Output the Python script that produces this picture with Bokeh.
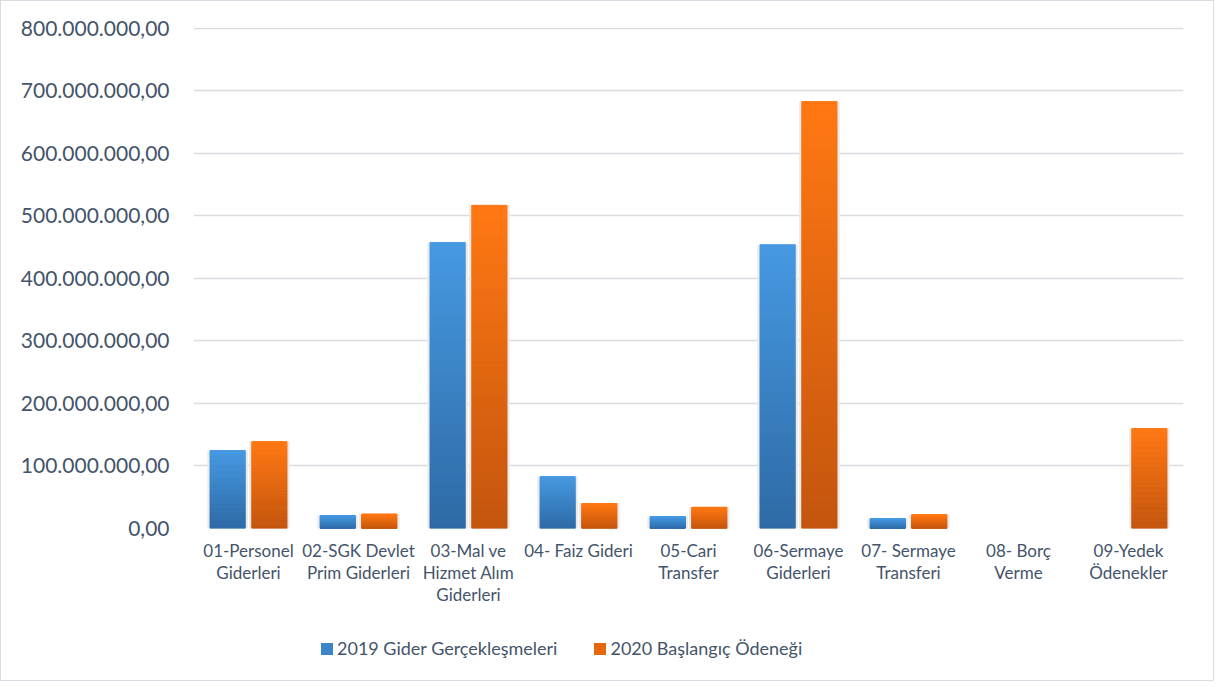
from bokeh.plotting import figure
from bokeh.layouts import column
from bokeh.models import (ColumnDataSource, FactorRange, Range1d, FixedTicker,
                          Legend, LegendItem)
from bokeh.transform import dodge
from bokeh.embed import file_html
from bokeh.resources import INLINE

# ---------------- data ----------------
categories = ["01-Personel\nGiderleri", "02-SGK Devlet\nPrim Giderleri",
              "03-Mal ve\nHizmet Alım\nGiderleri", "04- Faiz Gideri",
              "05-Cari\nTransfer", "06-Sermaye\nGiderleri",
              "07- Sermaye\nTransferi", "08- Borç\nVerme", "09-Yedek\nÖdenekler"]
series_names = ["2019 Gider Gerçekleşmeleri", "2020 Başlangıç Ödeneği"]
values_2019 = [124.8e6, 20.8e6, 457.6e6, 83e6, 19e6, 454e6, 16e6, 0, 0]
values_2020 = [139e6, 23e6, 517e6, 40e6, 34e6, 683e6, 22e6, 0, 160e6]
y_ticks = [0, 100e6, 200e6, 300e6, 400e6, 500e6, 600e6, 700e6, 800e6]

# ---------------- style ----------------
FONT = "Lato"
TXT = "#44546A"
GRID = "#D9DCE1"
blue_top, blue_bot = (0x46, 0x99, 0xE2), (0x2E, 0x6A, 0xA5)
orange_top, orange_bot = (0xFF, 0x78, 0x13), (0xC4, 0x55, 0x0E)
K = 60
BAR_W = 0.32
OFF = 0.19


def mix(a, b, t):
    return "#%02x%02x%02x" % tuple(int(round(a[i] + (b[i] - a[i]) * t)) for i in range(3))


def slices(values, top_c, bot_c):
    xs, bots, tops, cols = [], [], [], []
    for c, v in zip(categories, values):
        if v <= 0:
            continue
        for k in range(K):
            xs.append(c)
            bots.append(v * k / K)
            tops.append(v * (k + 1) / K)
            cols.append(mix(bot_c, top_c, (k + 0.5) / K))
    return ColumnDataSource(dict(x=xs, bottom=bots, top=tops, color=cols))


def fmt(v):
    s = f"{v:,.2f}"
    return s.replace(",", "X").replace(".", ",").replace("X", ".")


p = figure(width=1212, height=620, x_range=FactorRange(*categories, range_padding=0),
           y_range=Range1d(0, 801.5e6), output_backend="svg", toolbar_location=None,
           min_border_left=192, min_border_right=30, min_border_top=26,
           min_border_bottom=93)
p.outline_line_color = None
p.background_fill_color = "white"
p.border_fill_color = "white"

# shadows
shadow_src = ColumnDataSource(dict(x=categories, v19=values_2019, v20=values_2020))
p.vbar(x=dodge("x", -OFF, range=p.x_range), top="v19", bottom=0, width=BAR_W + 0.05,
       source=shadow_src, fill_color="#EBEBEB", line_color=None)
p.vbar(x=dodge("x", OFF, range=p.x_range), top="v20", bottom=0, width=BAR_W + 0.05,
       source=shadow_src, fill_color="#EBEBEB", line_color=None)

src19 = slices(values_2019, blue_top, blue_bot)
src20 = slices(values_2020, orange_top, orange_bot)
p.vbar(x=dodge("x", -OFF, range=p.x_range), top="top", bottom="bottom", width=BAR_W,
       source=src19, fill_color="color", line_color="color", line_width=1)
p.vbar(x=dodge("x", OFF, range=p.x_range), top="top", bottom="bottom", width=BAR_W,
       source=src20, fill_color="color", line_color="color", line_width=1)

# axes
p.yaxis.ticker = FixedTicker(ticks=y_ticks)
p.yaxis.major_label_overrides = {t: fmt(t) for t in y_ticks}
p.yaxis.major_label_text_font = FONT
p.yaxis.major_label_text_font_size = "21px"
p.yaxis.major_label_text_color = TXT
p.yaxis.major_label_standoff = 24
p.yaxis.major_tick_out = 0
p.yaxis.major_tick_in = 0
p.yaxis.axis_line_color = None
p.yaxis.major_tick_line_color = None
p.yaxis.minor_tick_line_color = None

p.xaxis.major_label_text_font = FONT
p.xaxis.major_label_text_font_size = "17px"
p.xaxis.major_label_text_color = TXT
p.xaxis.major_label_text_line_height = 1.05
p.xaxis.major_label_standoff = 11
p.xaxis.major_tick_out = 0
p.xaxis.major_tick_in = 0
p.xaxis.axis_line_color = None
p.xaxis.major_tick_line_color = None
p.xaxis.minor_tick_line_color = None

p.xgrid.grid_line_color = None
p.ygrid.grid_line_color = GRID
p.ygrid.grid_line_width = 1.5

# ---------------- legend strip ----------------
leg = figure(width=1212, height=59, x_range=Range1d(0, 1), y_range=Range1d(0, 1),
             output_backend="svg", toolbar_location=None,
             x_axis_location=None, y_axis_location=None,
             min_border_left=0, min_border_right=0, min_border_top=0, min_border_bottom=0)
leg.outline_line_color = None
leg.xgrid.grid_line_color = None
leg.ygrid.grid_line_color = None
# legend swatches only (renderers hidden, shown in the legend)
l19 = leg.vbar(x=[0.5], top=[1], bottom=[0], width=0.1,
               fill_color=mix(blue_bot, blue_top, 0.55), line_color=None, visible=False)
l20 = leg.vbar(x=[0.5], top=[1], bottom=[0], width=0.1,
               fill_color=mix(orange_bot, orange_top, 0.55), line_color=None, visible=False)
legend = Legend(items=[LegendItem(label=series_names[0], renderers=[l19]),
                       LegendItem(label=series_names[1], renderers=[l20])],
                orientation="horizontal", location=(126, 21),
                glyph_width=15, glyph_height=15, label_height=15, label_standoff=3,
                spacing=35, padding=0, margin=0,
                label_text_font=FONT, label_text_font_size="18px", label_text_color=TXT,
                border_line_color=None, background_fill_alpha=0)
leg.add_layout(legend, "center")

layout = column(p, leg, spacing=0, styles={"border": "1px solid #D9DCE3"})

open("out.html", "w").write(file_html(layout, INLINE))
